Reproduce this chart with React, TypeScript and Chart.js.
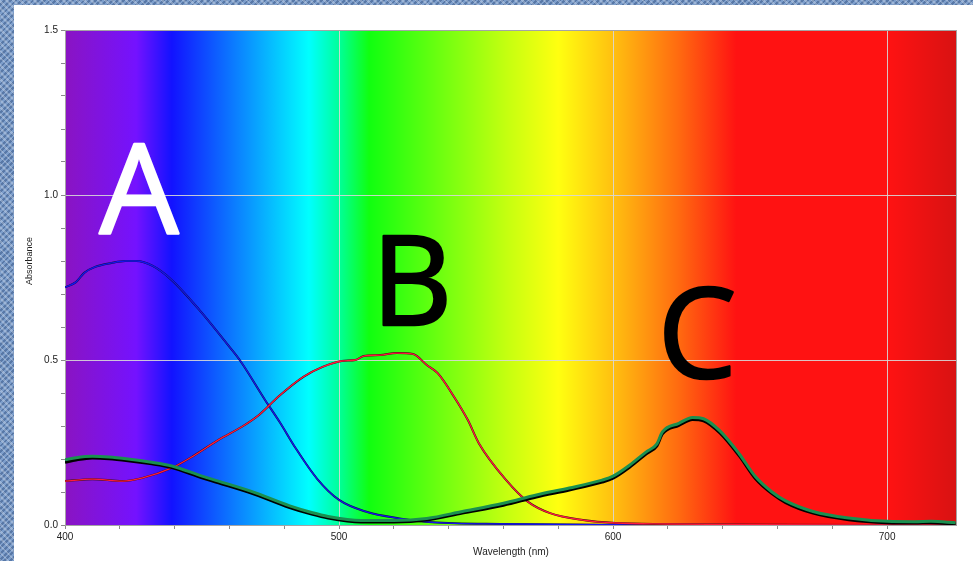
import React, { useEffect, useRef } from "react";
import { Chart, registerables } from "chart.js";

Chart.register(...registerables);

// Spectrum background stops (wavelength, colour)
const spectrumNm = [400, 426, 439, 466, 489, 500, 511, 561, 580, 600, 624, 645, 700, 725.5];
const spectrumColors = [
  "#8a14c2", "#7412ff", "#1212ff", "#0a90ff", "#00ffff", "#00ff9a", "#10ff10",
  "#c4ff10", "#ffff10", "#ffc010", "#ff6a10", "#ff1212", "#ff1212", "#d81212",
];

// Series A (blue)
const aNm = [400, 404, 407, 411, 417, 422, 426, 432, 439, 449, 460, 464, 473, 478.5, 484, 492, 500, 510, 522, 534, 560, 600, 725];
const aAbs = [0.72, 0.736, 0.764, 0.782, 0.794, 0.8, 0.8, 0.785, 0.742, 0.652, 0.54, 0.497, 0.379, 0.31, 0.235, 0.14, 0.076, 0.04, 0.02, 0.008, 0.003, 0.001, 0.0];

// Series B (red)
const bNm = [400, 410, 421, 428, 439, 447, 456, 465, 471, 478, 487, 494, 501, 506, 509, 515, 521, 527, 532, 536, 542, 547, 551, 561, 569, 577, 589, 601, 620, 650, 725];
const bAbs = [0.133, 0.139, 0.133, 0.142, 0.173, 0.21, 0.258, 0.3, 0.335, 0.39, 0.449, 0.479, 0.497, 0.5, 0.512, 0.515, 0.521, 0.518, 0.485, 0.46, 0.388, 0.318, 0.248, 0.136, 0.07, 0.036, 0.015, 0.006, 0.003, 0.001, 0.0];

// Series C (black trace and green trace)
const cNm = [400, 404, 410, 416, 423, 431, 439, 450, 456, 468, 482, 490, 496, 508, 520, 532, 545, 560, 572, 584, 596, 600, 606, 612, 616, 618, 624, 629, 633, 639, 646, 652, 658, 663, 673, 686, 700, 710, 716, 725];
const cBlackAbs = [0.19, 0.197, 0.203, 0.201, 0.195, 0.186, 0.174, 0.143, 0.128, 0.097, 0.053, 0.033, 0.021, 0.009, 0.009, 0.015, 0.036, 0.06, 0.085, 0.106, 0.13, 0.142, 0.175, 0.215, 0.24, 0.276, 0.302, 0.32, 0.316, 0.279, 0.21, 0.14, 0.095, 0.068, 0.036, 0.016, 0.007, 0.006, 0.007, 0.003];
const cGreenAbs = [0.198, 0.204, 0.208, 0.206, 0.2, 0.191, 0.179, 0.148, 0.133, 0.102, 0.058, 0.038, 0.026, 0.014, 0.014, 0.02, 0.041, 0.066, 0.091, 0.112, 0.136, 0.148, 0.181, 0.221, 0.246, 0.282, 0.308, 0.326, 0.322, 0.285, 0.216, 0.146, 0.1, 0.073, 0.041, 0.021, 0.011, 0.01, 0.011, 0.007];

// Big letter labels
const letterText = ["A", "B", "C"];
const letterNm = [427, 526.6, 630.7];
const letterAbs = [0.885, 0.606, 0.445];
const letterColors = ["#ffffff", "#000000", "#000000"];

// Axis titles
const xTitle = "Wavelength (nm)";
const yTitle = "Absorbance";
const yTitleAt = 0.8;

const pts = (xs: number[], ys: number[]) => xs.map((x, i) => ({ x, y: ys[i] }));

export default function App() {
  const ref = useRef<HTMLCanvasElement>(null);

  useEffect(() => {
    document.body.style.margin = "0";
    const canvas = ref.current!;

    const bgPlugin = {
      id: "spectrumBg",
      beforeDraw(chart: any) {
        const { ctx, chartArea, scales } = chart;
        const xs = scales.x;
        const x0 = chartArea.left;
        const x1 = chartArea.right;
        const g = ctx.createLinearGradient(x0, 0, x1, 0);
        spectrumNm.forEach((nm, i) => {
          const p = (xs.getPixelForValue(nm) - x0) / (x1 - x0);
          g.addColorStop(Math.min(1, Math.max(0, p)), spectrumColors[i]);
        });
        ctx.save();
        ctx.fillStyle = g;
        ctx.fillRect(x0, chartArea.top, x1 - x0, chartArea.bottom - chartArea.top);
        ctx.restore();
      },
      beforeDatasetsDraw(chart: any) {
        const { ctx, chartArea } = chart;
        ctx.save();
        ctx.strokeStyle = "#a4a4a4";
        ctx.lineWidth = 1;
        ctx.strokeRect(chartArea.left + 0.5, chartArea.top + 0.5, chartArea.right - chartArea.left - 1, chartArea.bottom - chartArea.top);
        ctx.restore();
      },
      afterDatasetsDraw(chart: any) {
        const { ctx, scales, chartArea } = chart;
        ctx.save();
        ctx.font = '400 125px "Open Sans", "Liberation Sans", sans-serif';
        ctx.textAlign = "center";
        ctx.textBaseline = "alphabetic";
        ctx.lineJoin = "round";
        ctx.lineWidth = 2.5;
        letterText.forEach((t, i) => {
          const px = scales.x.getPixelForValue(letterNm[i]);
          const py = scales.y.getPixelForValue(letterAbs[i]);
          ctx.fillStyle = letterColors[i];
          ctx.strokeStyle = letterColors[i];
          ctx.fillText(t, px, py);
          ctx.strokeText(t, px, py);
        });
        // y-axis title
        ctx.translate(chartArea.left - 35, scales.y.getPixelForValue(yTitleAt));
        ctx.rotate(-Math.PI / 2);
        ctx.font = '9px "Liberation Sans", Arial, sans-serif';
        ctx.fillStyle = "#222";
        ctx.textAlign = "center";
        ctx.textBaseline = "middle";
        ctx.fillText(yTitle, 0, 0);
        ctx.restore();
      },
    };

    const isMajorX = (v: number) => Math.abs(v % 100) < 1e-6;
    const isMajorY = (v: number) => Math.round(v * 10) % 5 === 0 && Math.abs(v * 10 - Math.round(v * 10)) < 1e-6;
    const isStepX = (v: number) => Math.abs(v % 20) < 1e-6;

    // first entry is drawn on top
    const chart = new Chart(canvas, {
      type: "line",
      data: {
        datasets: [
          { data: pts(cNm, cGreenAbs), borderColor: "#1a9050", borderWidth: 3 },
          { data: pts(cNm, cBlackAbs), borderColor: "#000000", borderWidth: 3 },
          { data: pts(bNm, bAbs), borderColor: "#ff1a3c", borderWidth: 1.3 },
          { data: pts(bNm, bAbs), borderColor: "#3a1018", borderWidth: 2 },
          { data: pts(aNm, aAbs), borderColor: "#1414f0", borderWidth: 1.3 },
          { data: pts(aNm, aAbs), borderColor: "#141438", borderWidth: 2 },
        ].map((d) => ({ ...d, pointRadius: 0, fill: false, cubicInterpolationMode: "monotone" as const })),
      },
      options: {
        animation: false,
        responsive: false,
        layout: { padding: { left: 0, top: 25, right: 16, bottom: 0 } },
        plugins: { legend: { display: false }, tooltip: { enabled: false } },
        scales: {
          x: {
            type: "linear",
            min: 400,
            max: 725.5,
            afterFit: (s: any) => { s.height = 36; },
            border: { display: false },
            grid: {
              drawTicks: true,
              tickLength: 4,
              color: (c: any) => (isMajorX(c.tick.value) && c.tick.value > 400 ? "rgba(215,215,215,0.9)" : "rgba(0,0,0,0)"),
              tickColor: (c: any) => (isStepX(c.tick.value) ? "#8a8a8a" : "rgba(0,0,0,0)"),
            },
            ticks: {
              stepSize: 20,
              autoSkip: false,
              maxRotation: 0,
              padding: 2,
              color: "#222",
              font: { family: '"Liberation Sans", Arial, sans-serif', size: 10 },
              callback: (v: any) => (isMajorX(Number(v)) ? String(v) : ""),
            },
            title: {
              display: true,
              text: xTitle,
              color: "#222",
              font: { family: '"Liberation Sans", Arial, sans-serif', size: 10 },
              padding: { top: 0, bottom: 3 },
            },
          },
          y: {
            min: 0,
            max: 1.5,
            afterFit: (s: any) => { s.width = 51; },
            border: { display: false },
            grid: {
              drawTicks: true,
              tickLength: 4,
              color: (c: any) => (isMajorY(c.tick.value) && c.tick.value > 0.01 && c.tick.value < 1.49 ? "rgba(215,215,215,0.9)" : "rgba(0,0,0,0)"),
              tickColor: "#8a8a8a",
            },
            ticks: {
              stepSize: 0.1,
              autoSkip: false,
              padding: 3,
              color: "#222",
              font: { family: '"Liberation Sans", Arial, sans-serif', size: 10 },
              callback: (v: any) => (isMajorY(Number(v)) ? Number(v).toFixed(1) : ""),
            },
          },
        },
      },
      plugins: [bgPlugin],
    });

    return () => chart.destroy();
  }, []);

  return (
    <div
      style={{
        position: "fixed",
        left: 0,
        top: 0,
        width: 973,
        height: 561,
        background:
          "repeating-linear-gradient(45deg, rgba(255,255,255,0.25) 0 2px, rgba(0,0,0,0) 2px 5px), repeating-linear-gradient(-45deg, rgba(20,50,100,0.35) 0 2px, rgba(0,0,0,0) 2px 4px), #7d9ecb",
        overflow: "hidden",
      }}
    >
      <div style={{ position: "absolute", left: 14, top: 5, width: 959, height: 556, background: "#ffffff" }}>
        <canvas ref={ref} width={959} height={556} style={{ display: "block" }} />
      </div>
    </div>
  );
}
